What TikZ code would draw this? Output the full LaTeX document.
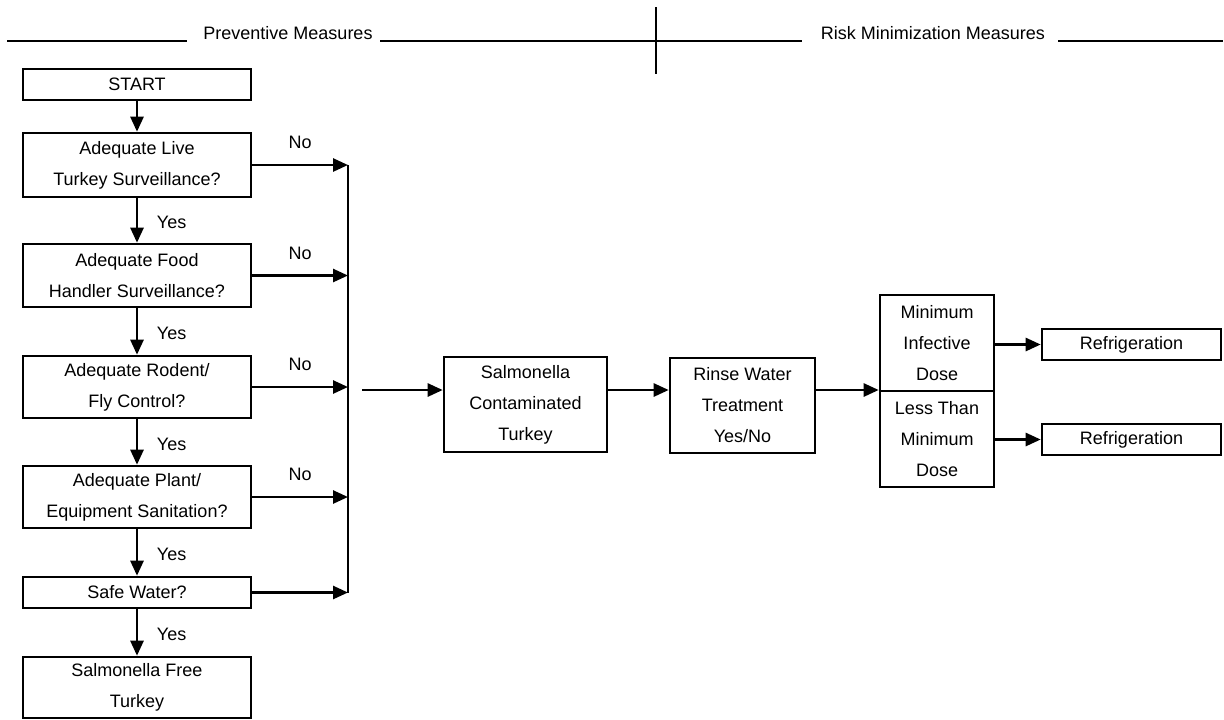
\documentclass[tikz,border=0pt]{standalone}
\usepackage{tikz}
\usetikzlibrary{calc}
\usetikzlibrary{arrows.meta}
\usepackage{fontspec}
\setmainfont{Liberation Sans}

\begin{document}
\begin{tikzpicture}[x=0.5pt, y=-0.5pt,
        every node/.style={font=\fontsize{9}{15.5}\selectfont},
        box/.style={draw, line width=1.3pt, align=center, inner sep=0pt},
        arr/.style={line width=1.3pt, -{Triangle[length=7.5pt,width=6.5pt]}},
        rule/.style={line width=1.3pt}]
            \useasboundingbox (0,0) rectangle (1224,719);
            % header rules
            \node[anchor=base] (prev) at ( 288,  39) {Preventive Measures};
            \node[anchor=base] (risk) at ( 933,  39) {Risk Minimization Measures};
            \draw[rule] (   7,  41) -- ( 187,  41);
            \draw[rule] ( 380,  41) -- ( 802,  41);
            \draw[rule] (1058,  41) -- (1223,  41);
            \draw[rule] ( 656,   7) -- ( 656,  74);
            % preventive column
            \node[box, minimum width=114pt, minimum height=15.5pt] (start) at ( 137,  84.5) {START};
            \node[box, minimum width=114pt, minimum height=32pt]   (live)  at ( 137, 165)   {Adequate Live\\Turkey Surveillance?};
            \node[box, minimum width=114pt, minimum height=31.5pt] (food)  at ( 137, 275.5) {Adequate Food\\Handler Surveillance?};
            \node[box, minimum width=114pt, minimum height=31pt]   (rodent) at ( 137, 387)  {Adequate Rodent/\\Fly Control?};
            \node[box, minimum width=114pt, minimum height=31pt]   (plant) at ( 137, 497)   {Adequate Plant/\\Equipment Sanitation?};
            \node[box, minimum width=114pt, minimum height=15.5pt] (water) at ( 137, 592.5) {Safe Water?};
            \node[box, minimum width=114pt, minimum height=30.5pt] (free)  at ( 137, 687.5) {Salmonella Free\\Turkey};
            \draw[arr] (start) -- (live);
            \draw[arr] (live)   -- node[right=6pt, pos=.55] {Yes} (food);
            \draw[arr] (food)   -- node[right=6pt, pos=.55] {Yes} (rodent);
            \draw[arr] (rodent) -- node[right=6pt, pos=.55] {Yes} (plant);
            \draw[arr] (plant)  -- node[right=6pt, pos=.55] {Yes} (water);
            \draw[arr] (water)  -- node[right=6pt, pos=.55] {Yes} (free);
            % the No branches
            \coordinate (bus)  at ( 348,   0);
            \draw[arr] (live.east)   -- node[above=4pt] {No} (live.east -| bus);
            \draw[arr] (food.east)   -- node[above=4pt] {No} (food.east -| bus);
            \draw[arr] (rodent.east) -- node[above=4pt] {No} (rodent.east -| bus);
            \draw[arr] (plant.east)  -- node[above=4pt] {No} (plant.east -| bus);
            \draw[arr] (water.east)  -- (water.east -| bus);
            \draw[rule] (live.east -| bus) -- (water.east -| bus);
            % risk minimization row
            \coordinate (feed) at ( 362, 390);
            \node[box, minimum width=81.5pt, minimum height=47.5pt] (cont)  at ( 525.5, 404.5) {Salmonella\\Contaminated\\Turkey};
            \node[box, minimum width=72.5pt, minimum height=47.5pt] (rinse) at ( 742.5, 405.5) {Rinse Water\\Treatment\\Yes/No};
            \node[box, minimum width=57pt,   minimum height=48pt]   (dosehi) at ( 937, 343) {Minimum\\Infective\\Dose};
            \node[box, minimum width=57pt,   minimum height=48pt]   (doselo) at ( 937, 439) {Less Than\\Minimum\\Dose};
            \node[box, minimum width=89.5pt, minimum height=15.5pt] (fridgehi) at (1131.5, 344.5) {Refrigeration};
            \node[box, minimum width=89.5pt, minimum height=15.5pt] (fridgelo) at (1131.5, 439.5) {Refrigeration};
            \draw[arr] (feed) -- (feed -| cont.west);
            \draw[arr] (feed -| cont.east)  -- (feed -| rinse.west);
            \draw[arr] (feed -| rinse.east) -- (feed -| dosehi.west);
            \draw[arr] (fridgehi -| dosehi.east) -- (fridgehi);
            \draw[arr] (fridgelo -| doselo.east) -- (fridgelo);
        \end{tikzpicture}
\end{document}
